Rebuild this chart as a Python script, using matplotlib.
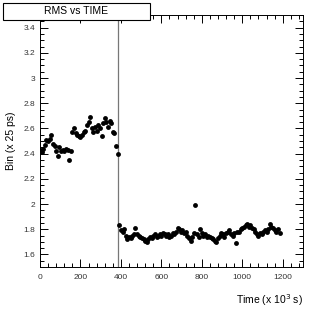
import matplotlib
matplotlib.use("Agg")
import matplotlib.pyplot as plt
from matplotlib.patches import Rectangle
from matplotlib.ticker import MultipleLocator

# before the step (time in 10^3 s, rms in bins)
time_a = [0, 8, 16, 24, 32, 40, 48, 56, 64, 72, 80, 88, 96, 104, 112, 120,
          128, 136, 144, 152, 160, 168, 176, 184, 192, 200, 208, 216, 224,
          232, 240, 248, 256, 264, 272, 280, 288, 296, 304, 312, 320, 328,
          336, 344, 352, 360, 368, 376, 384]
rms_a = [2.43, 2.41, 2.44, 2.47, 2.51, 2.50, 2.52, 2.55, 2.48, 2.46, 2.42,
         2.38, 2.45, 2.42, 2.43, 2.42, 2.44, 2.43, 2.35, 2.42, 2.57, 2.60,
         2.56, 2.55, 2.54, 2.53, 2.55, 2.57, 2.58, 2.63, 2.65, 2.69, 2.60,
         2.57, 2.61, 2.58, 2.63, 2.60, 2.54, 2.64, 2.68, 2.65, 2.61, 2.66,
         2.64, 2.57, 2.56, 2.46, 2.40]

# after the step
time_b = [392, 400, 408, 416, 424, 432, 440, 448, 456, 464, 472, 480, 488,
          496, 504, 512, 520, 528, 536, 544, 552, 560, 568, 576, 584, 592,
          600, 608, 616, 624, 632, 640, 648, 656, 664, 672, 680, 688, 696,
          704, 712, 720, 728, 736, 744, 752, 760, 768, 776, 784, 792, 800,
          808, 816, 824, 832, 840, 848, 856, 864, 872, 880, 888, 896, 904,
          912, 920, 928, 936, 944, 952, 960, 968, 976, 984, 992, 1000, 1008,
          1016, 1024, 1032, 1040, 1048, 1056, 1064, 1072, 1080, 1088, 1096,
          1104, 1112, 1120, 1128, 1136, 1144, 1152, 1160, 1168, 1176, 1184]
rms_b = [1.83, 1.79, 1.78, 1.80, 1.75, 1.72, 1.74, 1.73, 1.75, 1.76, 1.81,
         1.76, 1.75, 1.74, 1.73, 1.72, 1.71, 1.70, 1.72, 1.74, 1.73, 1.75,
         1.76, 1.74, 1.75, 1.76, 1.75, 1.77, 1.76, 1.75, 1.76, 1.74, 1.75,
         1.77, 1.76, 1.78, 1.81, 1.80, 1.78, 1.79, 1.77, 1.78, 1.75, 1.73,
         1.71, 1.74, 1.77, 1.99, 1.76, 1.74, 1.80, 1.77, 1.75, 1.76, 1.74,
         1.75, 1.74, 1.73, 1.72, 1.71, 1.70, 1.73, 1.75, 1.77, 1.76, 1.74,
         1.77, 1.78, 1.79, 1.76, 1.75, 1.77, 1.69, 1.78, 1.78, 1.80, 1.81,
         1.82, 1.83, 1.84, 1.82, 1.83, 1.81, 1.80, 1.78, 1.76, 1.75, 1.77,
         1.76, 1.78, 1.79, 1.78, 1.80, 1.84, 1.82, 1.81, 1.79, 1.78, 1.80,
         1.77]

step_time = 385

plt.rcParams["font.family"] = ["Liberation Sans", "DejaVu Sans"]

fig = plt.figure(figsize=(3.19, 3.14), dpi=100)
ax = fig.add_axes([0.1254, 0.1497, 0.8244, 0.8023])

ax.plot(time_a + time_b, rms_a + rms_b, "o", color="black", ms=3.5,
        mew=0, zorder=3)
ax.axvline(step_time, color="#777777", lw=0.9, zorder=2)

ax.set_xlim(0, 1300)
ax.set_ylim(1.5, 3.5)
ax.xaxis.set_major_locator(MultipleLocator(200))
ax.xaxis.set_minor_locator(MultipleLocator(40))
ax.yaxis.set_minor_locator(MultipleLocator(0.05))
ax.set_yticks([1.6, 1.8, 2.0, 2.2, 2.4, 2.6, 2.8, 3.0, 3.2, 3.4])
ax.set_yticklabels(["1.6", "1.8", "2", "2.2", "2.4", "2.6", "2.8", "3",
                    "3.2", "3.4"])
ax.tick_params(which="both", direction="in", top=True, right=True,
               labelsize=6, width=0.7, colors="black", labelcolor="#333333")
ax.tick_params(which="major", length=6)
ax.tick_params(which="minor", length=3)
ax.tick_params(axis="x", pad=5)
for s in ax.spines.values():
    s.set_linewidth(0.7)

ax.set_xlabel("Time (x 10$^3$ s)", fontsize=7.5, loc="right", labelpad=8)
ax.set_ylabel("Bin (x 25 ps)", fontsize=7.5, labelpad=5)

# title box
fig.patches.append(Rectangle((3 / 319, 1 - 20 / 314), 147 / 319, 17 / 314,
                             transform=fig.transFigure, facecolor="white",
                             edgecolor="black", lw=0.8, zorder=5))
fig.text(76.5 / 319, 1 - 11.5 / 314, "RMS vs TIME", fontsize=7.5,
         ha="center", va="center", zorder=6)

fig.savefig("out.png", dpi=100)
